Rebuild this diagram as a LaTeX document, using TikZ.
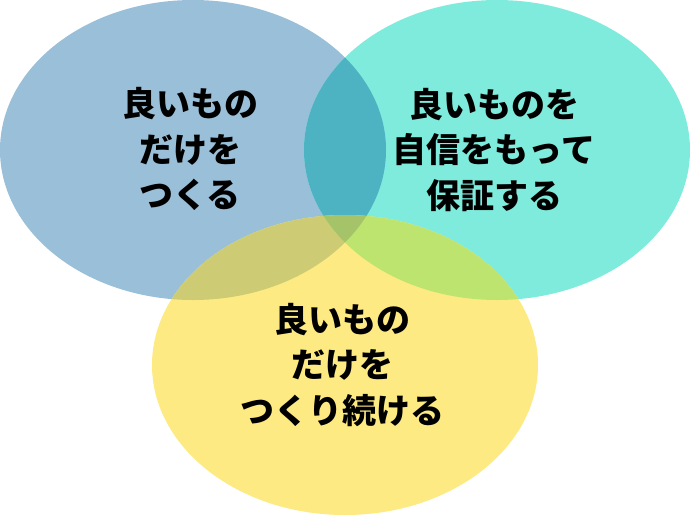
\documentclass[tikz,border=0pt]{standalone}
\usepackage{fontspec}
\newfontfamily\jpfont{Noto Sans CJK JP Black}
\definecolor{cblue}{HTML}{9ABFD8}
\definecolor{cteal}{HTML}{7FEBDC}
\definecolor{cyellow}{HTML}{FEEA82}
\definecolor{cbt}{HTML}{4DB2C2}
\definecolor{cby}{HTML}{CDCB73}
\definecolor{cty}{HTML}{BEE470}
\definecolor{call}{HTML}{A5C46A}
\tikzset{
  lbl/.style={align=center, text=black, inner sep=0pt,
    font=\jpfont\fontsize{34}{45.5}\selectfont}
}
\newcommand{\elA}{(193,150) ellipse [x radius=193pt, y radius=150pt]}
\newcommand{\elB}{(497,150) ellipse [x radius=193pt, y radius=150pt]}
\newcommand{\elC}{(345,365) ellipse [x radius=193pt, y radius=150pt]}
\begin{document}
\begin{tikzpicture}[x=1pt,y=-1pt]
\useasboundingbox (0,0) rectangle (690,515);
\fill[cblue] \elA;
\fill[cteal] \elB;
\fill[cyellow] \elC;
\begin{scope}
  \clip \elA;
  \fill[cbt] \elB;
  \fill[cby] \elC;
\end{scope}
\begin{scope}
  \clip \elB;
  \fill[cty] \elC;
\end{scope}
\begin{scope}
  \clip \elA;
  \clip \elB;
  \fill[call] \elC;
\end{scope}
\node[lbl] (left) at (190,149) {良いもの\\だけを\\つくる};
\node[lbl] (right) at (494,150) {良いものを\\自信をもって\\保証する};
\node[lbl] (bottom) at (342,365) {良いもの\\だけを\\つくり続ける};
\end{tikzpicture}
\end{document}
